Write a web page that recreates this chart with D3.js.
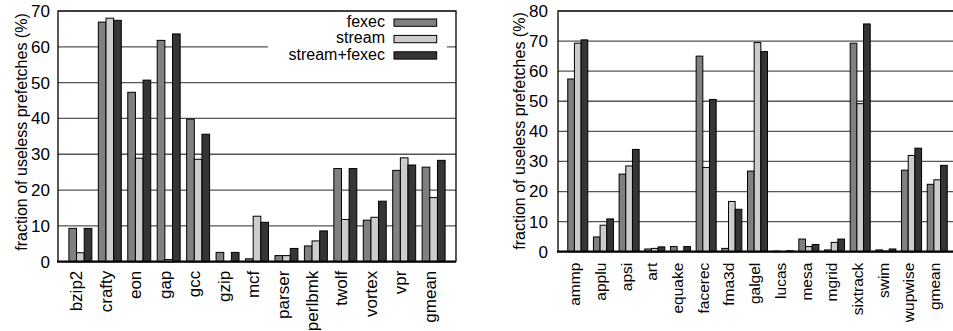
<!DOCTYPE html>
<html>
<head>
<meta charset="utf-8">
<script src="https://cdn.jsdelivr.net/npm/d3@7"></script>
<style>
  body { margin: 0; background: #fff; }
  svg { display: block; font-family: "Liberation Sans", Arial, sans-serif; }
</style>
</head>
<body>
<div id="chart"></div>
<script>
// series names and colours
const seriesNames = ['fexec', 'stream', 'stream+fexec'];
const seriesColors = ['#808080', '#cccccc', '#353535'];

// integer benchmarks (left panel)
const intCategories = ['bzip2', 'crafty', 'eon', 'gap', 'gcc', 'gzip', 'mcf', 'parser', 'perlbmk', 'twolf', 'vortex', 'vpr', 'gmean'];
const intFexec = [9.3, 66.9, 47.3, 61.8, 39.8, 2.6, 0.8, 1.7, 4.4, 26.0, 11.6, 25.5, 26.4];
const intStream = [2.5, 68.0, 28.9, 0.6, 28.6, 0, 12.7, 1.7, 5.8, 11.8, 12.4, 29.0, 17.9];
const intBoth = [9.3, 67.4, 50.7, 63.6, 35.6, 2.6, 11.0, 3.7, 8.6, 26.0, 16.9, 27.0, 28.3];
const intTicks = [0, 10, 20, 30, 40, 50, 60, 70];

// floating point benchmarks (right panel)
const fpCategories = ['ammp', 'applu', 'apsi', 'art', 'equake', 'facerec', 'fma3d', 'galgel', 'lucas', 'mesa', 'mgrid', 'sixtrack', 'swim', 'wupwise', 'gmean'];
const fpFexec = [57.4, 4.9, 25.8, 0.9, 1.7, 65.0, 1.1, 26.8, 0.2, 4.2, 0.6, 69.3, 0.6, 27.1, 22.4];
const fpStream = [69.3, 8.8, 28.5, 1.1, 0, 28.0, 16.7, 69.5, 0, 1.7, 3.1, 49.2, 0.2, 32.0, 23.9];
const fpBoth = [70.4, 10.9, 34.0, 1.6, 1.7, 50.6, 14.1, 66.5, 0.3, 2.4, 4.2, 75.7, 0.9, 34.4, 28.7];
const fpTicks = [0, 10, 20, 30, 40, 50, 60, 70, 80];

const yTitle = 'fraction of useless prefetches (%)';

const svg = d3.select('#chart').append('svg')
  .attr('width', 953)
  .attr('height', 331);

function drawPanel(opts) {
  const { categories, series, ticks, left, right, top, bottom, pad, labelFont, labelOff, tickGap, titleX, titleY, legend } = opts;
  const g = svg.append('g');

  const x = d3.scaleLinear()
    .domain([-pad, categories.length - 1 + pad])
    .range([left, right]);
  const y = d3.scaleLinear()
    .domain([0, d3.max(ticks)])
    .range([bottom, top]);

  const step = x(1) - x(0);
  const groupW = 0.78 * step;
  const barW = groupW / series.length;

  // gridlines
  g.append('g')
    .selectAll('line')
    .data(ticks.slice(1, -1))
    .join('line')
    .attr('x1', left)
    .attr('x2', right)
    .attr('y1', (d) => y(d))
    .attr('y2', (d) => y(d))
    .attr('stroke', '#555')
    .attr('stroke-width', 1.3);

  // legend box hides the gridlines under it
  if (legend) {
    g.append('rect')
      .attr('x', legend.x0)
      .attr('y', top + 1)
      .attr('width', legend.x1 - legend.x0)
      .attr('height', legend.h)
      .attr('fill', '#fff');
    seriesNames.forEach((name, i) => {
      const yy = legend.y + i * legend.dy;
      g.append('text')
        .attr('x', legend.textX)
        .attr('y', yy)
        .attr('text-anchor', 'end')
        .attr('font-size', 16)
        .text(name);
      g.append('rect')
        .attr('x', legend.swX)
        .attr('y', yy - 7.8)
        .attr('width', legend.swW)
        .attr('height', 7.3)
        .attr('fill', seriesColors[i])
        .attr('stroke', '#000')
        .attr('stroke-width', 1);
    });
  }

  // bars
  series.forEach((vals, k) => {
    g.append('g')
      .selectAll('rect')
      .data(vals)
      .join('rect')
      .attr('x', (d, i) => x(i) - groupW / 2 + k * barW)
      .attr('y', (d) => y(d))
      .attr('width', barW)
      .attr('height', (d) => y(0) - y(d))
      .attr('fill', seriesColors[k])
      .attr('stroke', '#000')
      .attr('stroke-width', 1);
  });

  // frame
  g.append('path')
    .attr('d', `M${left},${bottom}V${top}H${right}V${bottom}`)
    .attr('fill', 'none')
    .attr('stroke', '#000')
    .attr('stroke-width', 1.3);
  g.append('line')
    .attr('x1', left - 1)
    .attr('x2', right)
    .attr('y1', bottom)
    .attr('y2', bottom)
    .attr('stroke', '#000')
    .attr('stroke-width', 2.2);

  // y axis tick labels
  const yAxis = d3.axisLeft(y).tickValues(ticks).tickSize(0).tickPadding(tickGap);
  const ya = g.append('g')
    .attr('transform', `translate(${left},0)`)
    .call(yAxis);
  ya.select('.domain').remove();
  ya.selectAll('text')
    .attr('font-size', 17)
    .attr('font-family', '"Liberation Sans", Arial, sans-serif')
    .attr('fill', '#000');

  // x category labels, rotated
  g.append('g')
    .selectAll('text')
    .data(categories)
    .join('text')
    .attr('transform', (d, i) => `translate(${x(i) + labelOff},${bottom + opts.labelTop}) rotate(-90)`)
    .attr('text-anchor', 'end')
    .attr('dy', '0.3em')
    .attr('font-size', labelFont)
    .text((d) => d);

  // y title
  g.append('text')
    .attr('transform', `translate(${titleX},${titleY}) rotate(-90)`)
    .attr('text-anchor', 'middle')
    .attr('font-size', 16)
    .text(yTitle);
}

drawPanel({
  categories: intCategories,
  series: [intFexec, intStream, intBoth],
  ticks: intTicks,
  left: 58, right: 456, top: 11, bottom: 261.7, pad: 0.76,
  labelFont: 17, labelOff: -3, labelTop: 9, tickGap: 8,
  titleX: 27, titleY: 132,
  legend: { x0: 268, x1: 447, h: 54, textX: 385, swX: 394, swW: 42.7, y: 26.8, dy: 16.4 }
});

drawPanel({
  categories: fpCategories,
  series: [fpFexec, fpStream, fpBoth],
  ticks: fpTicks,
  left: 558, right: 957, top: 11, bottom: 251.7, pad: 0.77,
  labelFont: 15.5, labelOff: -2, labelTop: 11, tickGap: 10,
  titleX: 525, titleY: 131,
  legend: null
});
</script>
</body>
</html>
